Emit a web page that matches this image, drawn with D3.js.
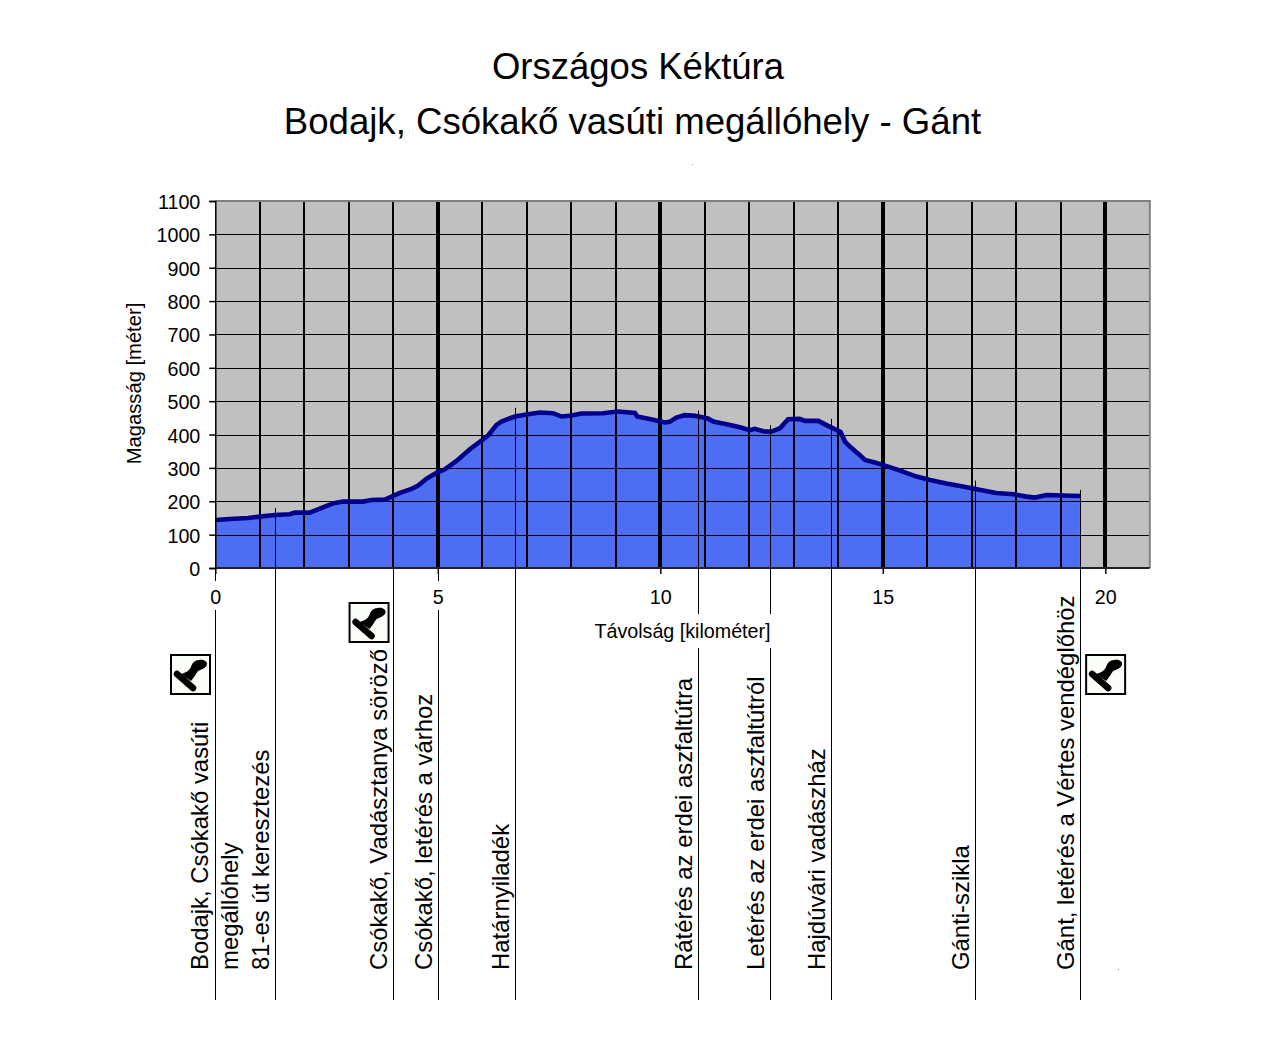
<!DOCTYPE html>
<html lang="en">
	<head>
		<meta charset="utf-8">
		<title>Országos Kéktúra</title>
		<script type="text/javascript" src="https://cdn.jsdelivr.net/npm/d3@7"></script>
		<style type="text/css">
			html, body { margin: 0; padding: 0; background: #fff; }
			svg { display: block; }
			text { font-family: "Liberation Sans", Arial, sans-serif; fill: #000; }
		</style>
	</head>

	<body>
		<script type="text/javascript">
			/* elevation profile: km and metres */
			var distance = [0, 0.33, 0.74, 1, 1.34, 1.67, 1.79, 2.12, 2.31, 2.5, 2.69, 2.87, 3.32, 3.51, 3.81, 4,
				4.15, 4.41, 4.56, 4.75, 4.97, 5.16, 5.42, 5.72, 6.02, 6.13, 6.32, 6.43, 6.73, 7.03, 7.29, 7.59,
				7.78, 8, 8.23, 8.71, 9.05, 9.43, 9.48, 9.84, 10.1, 10.21, 10.36, 10.55, 10.78, 11.07, 11.19, 11.49,
				11.79, 12.01, 12.12, 12.35, 12.5, 12.69, 12.87, 13.13, 13.25, 13.55, 13.77, 14.05, 14.15, 14.26,
				14.48, 14.6, 14.82, 15, 15.34, 15.76, 16.06, 16.43, 16.8, 17.11, 17.55, 17.93, 18.23, 18.42, 18.68, 19.43];
			var elevation = [144, 147, 150, 154, 159, 161, 166, 166, 176, 186, 195, 199, 199, 204, 205, 216,
				225, 237, 247, 268, 285, 296, 321, 356, 386, 397, 429, 439, 454, 461, 466, 464,
				454, 457, 463, 464, 469, 465, 454, 444, 436, 438, 451, 458, 456, 448, 439, 431,
				422, 413, 417, 409, 409, 419, 446, 447, 441, 441, 426, 408, 379, 364,
				339, 324, 316, 309, 294, 274, 264, 253, 244, 236, 225, 221, 214, 211, 219, 216];

			/* waypoints below the chart */
			var waypointNames = [
				["Bodajk, Csókakő vasúti", "megállóhely"],
				["81-es út keresztezés"],
				["Csókakő, Vadásztanya söröző"],
				["Csókakő, letérés a várhoz"],
				["Határnyiladék"],
				["Rátérés az erdei aszfaltútra"],
				["Letérés az erdei aszfaltútról"],
				["Hajdúvári vadászház"],
				["Gánti-szikla"],
				["Gánt, letérés a Vértes vendéglőhöz"]
			];
			var waypointKm = [0, 1.34, 3.99, 5, 6.74, 10.84, 12.47, 13.83, 17.08, 19.43];
			/* elevation where each waypoint line starts inside the plot */
			var waypointTop = [0, 180, 0, 0, 480, 472, 428, 447, 262, 234];
			var stampKm = [0, 3.99, 19.43];

			var yTicks = d3.range(0, 1101, 100);
			var xTicks = [0, 5, 10, 15, 20];
			var kmLines = d3.range(1, 21);

			var svgWidth = 1280;
			var svgHeight = 1050;
			var plotLeft = 215.3, plotRight = 1149.8, plotTop = 201, plotBottom = 568;
			var labelBottom = 970, lineBottom = 1000;
			var tickFont = 19.7;

			var svg = d3.select("body")
				.append("svg")
				.attr("width", svgWidth)
				.attr("height", svgHeight);

			var x = d3.scaleLinear().domain([0, 21]).range([plotLeft, plotRight]);
			var y = d3.scaleLinear().domain([0, 1100]).range([plotBottom, plotTop]);

			/* titles */
			svg.append("text").text("Országos Kéktúra")
				.attr("x", 638).attr("y", 79).attr("text-anchor", "middle").attr("font-size", 36.5);
			svg.append("text").text("Bodajk, Csókakő vasúti megállóhely - Gánt")
				.attr("x", 632.5).attr("y", 134).attr("text-anchor", "middle").attr("font-size", 36.6);

			/* plot background */
			svg.append("rect")
				.attr("x", plotLeft).attr("y", plotTop)
				.attr("width", plotRight - plotLeft).attr("height", plotBottom - plotTop)
				.attr("fill", "#c0c0c0");

			/* filled profile */
			var area = d3.area()
				.x(function(d) { return x(d[0]); })
				.y0(y(0))
				.y1(function(d) { return y(d[1]); });
			var profile = d3.zip(distance, elevation);
			svg.append("path").datum(profile).attr("d", area).attr("fill", "#4d6ef2");

			/* grid */
			svg.selectAll("line.hgrid")
				.data(yTicks.slice(1, -1))
				.enter()
				.append("line")
				.attr("class", "hgrid")
				.attr("x1", plotLeft).attr("x2", plotRight)
				.attr("y1", function(d) { return Math.round(y(d)) + 0.5; })
				.attr("y2", function(d) { return Math.round(y(d)) + 0.5; })
				.attr("stroke", "#000").attr("stroke-width", 1);
			svg.selectAll("line.vgrid")
				.data(kmLines)
				.enter()
				.append("line")
				.attr("class", "vgrid")
				.attr("x1", function(d) { return Math.round(x(d)); })
				.attr("x2", function(d) { return Math.round(x(d)); })
				.attr("y1", plotTop).attr("y2", plotBottom)
				.attr("stroke", "#000")
				.attr("stroke-width", function(d) { return d % 5 === 0 ? 4 : 2; });

			/* profile outline */
			var line = d3.line()
				.x(function(d) { return x(d[0]); })
				.y(function(d) { return y(d[1]); });
			svg.append("path").datum(profile).attr("d", line)
				.attr("fill", "none").attr("stroke", "#00008c").attr("stroke-width", 4.6);

			/* plot frame: grey top and right */
			svg.append("path")
				.attr("d", "M" + plotLeft + "," + plotTop + "H" + plotRight + "V" + plotBottom)
				.attr("fill", "none").attr("stroke", "#808080").attr("stroke-width", 2);

			/* waypoint lines */
			svg.selectAll("line.waypoint")
				.data(waypointKm)
				.enter()
				.append("line")
				.attr("class", "waypoint")
				.attr("x1", function(d) { return Math.round(x(d)) + 0.5; })
				.attr("x2", function(d) { return Math.round(x(d)) + 0.5; })
				.attr("y1", function(d, i) { return y(waypointTop[i]); })
				.attr("y2", lineBottom)
				.attr("stroke", "#000").attr("stroke-width", 1);

			/* axes */
			var yAxis = svg.append("g")
				.attr("transform", "translate(" + plotLeft + ",0)")
				.call(d3.axisLeft(y).tickValues(yTicks).tickSize(6).tickPadding(9).tickFormat(d3.format("d")));
			var xAxis = svg.append("g")
				.attr("transform", "translate(0," + plotBottom + ")")
				.call(d3.axisBottom(x).tickValues(xTicks).tickSize(6).tickPadding(16).tickFormat(d3.format("d")));
			xAxis.select(".domain").remove();
			xAxis.append("line").attr("x1", plotLeft).attr("x2", plotRight).attr("stroke", "#222").attr("stroke-width", 2);
			yAxis.selectAll("text").attr("font-size", tickFont).attr("dy", "0.38em");
			xAxis.selectAll("text").attr("font-size", tickFont);
			yAxis.selectAll("line, path").attr("stroke-width", 1.5);
			xAxis.selectAll(".tick line").attr("stroke-width", 1.5);
			yAxis.attr("font-family", null);
			xAxis.attr("font-family", null);

			/* tick labels and the axis title sit on white boxes that cut the waypoint lines */
			xAxis.selectAll(".tick").insert("rect", "text")
				.attr("x", -12).attr("y", 13).attr("width", 24).attr("height", 29)
				.attr("fill", "#fff");
			svg.append("rect").attr("x", 590).attr("y", 614).attr("width", 184).attr("height", 34).attr("fill", "#fff");
			svg.append("text").text("Távolság [kilométer]")
				.attr("x", 682.5).attr("y", 638).attr("text-anchor", "middle").attr("font-size", tickFont);
			svg.append("text").text("Magasság [méter]")
				.attr("transform", "translate(141,383.5) rotate(-90)")
				.attr("text-anchor", "middle").attr("font-size", 20.2);

			/* rotated waypoint labels, the first one runs over two lines */
			waypointNames.forEach(function(lines, i) {
				lines.forEach(function(name, j) {
					var bx = x(waypointKm[i]) - (i === 0 ? 7.3 : 6.1) + j * 30;
					svg.append("text").text(name)
						.attr("transform", "translate(" + bx + "," + labelBottom + ") rotate(-90)")
						.attr("font-size", 23.9);
				});
			});

			/* stamp icons */
			var stampOffset = [-44.3, -43.3, 6.2];
			var stampTop = [655, 603, 655];
			stampKm.forEach(function(km, i) {
				var g = svg.append("g")
					.attr("transform", "translate(" + (x(km) + stampOffset[i]) + "," + stampTop[i] + ")");
				g.append("rect").attr("width", 39).attr("height", 39)
					.attr("fill", "#fbfdf9").attr("stroke", "#000").attr("stroke-width", 2);
				g.append("path")
					.attr("d", "M10 19C14 18 18 16 20 12C21 8 24 5 28 5C32 4 36 6 36 9C36 12 32 14 27 16C25 19 23 22 20 26Z")
					.attr("fill", "#000");
				g.append("line").attr("x1", 6).attr("y1", 19).attr("x2", 22).attr("y2", 33)
					.attr("stroke", "#000").attr("stroke-width", 6.5).attr("stroke-linecap", "round");
			});

			/* two stray specks in the source image */
			svg.append("rect").attr("x", 692).attr("y", 164).attr("width", 1).attr("height", 1).attr("fill", "#999");
			svg.append("rect").attr("x", 1118).attr("y", 969).attr("width", 1).attr("height", 1).attr("fill", "#777");
		</script>
	</body>
</html>
